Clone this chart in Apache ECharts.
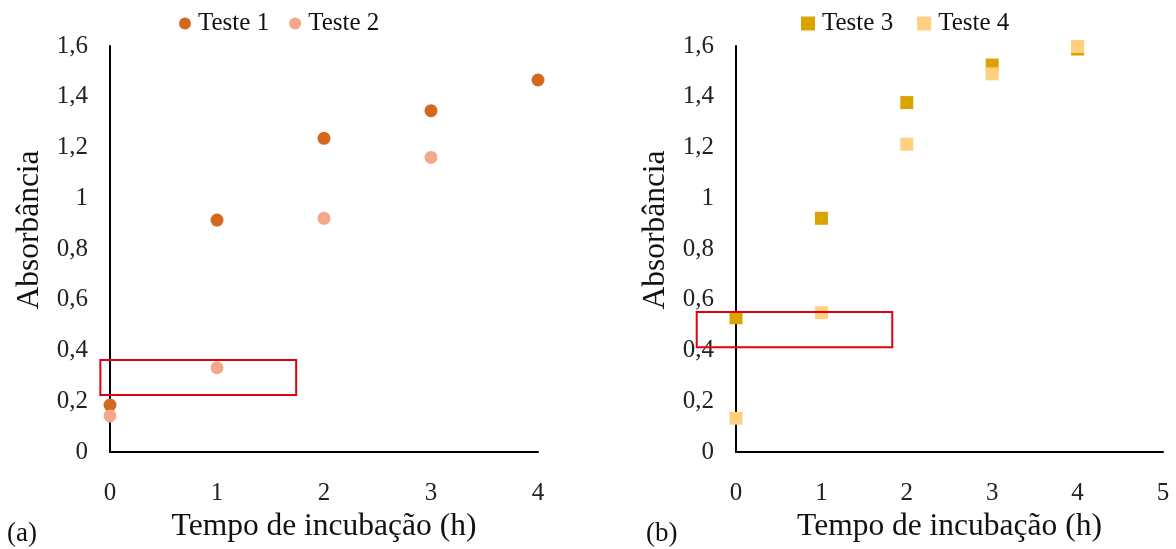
<!DOCTYPE html>
<html>
<head>
<meta charset="utf-8">
<script src="https://cdn.jsdelivr.net/npm/echarts@6/dist/echarts.min.js"></script>
<style>
  html, body { margin: 0; padding: 0; background: #fff; }
  #chart { width: 1176px; height: 549px; }
</style>
</head>
<body>
<div id="chart"></div>
<script>
// Incubation time (h)
const tempoA = [0, 1, 2, 3, 4];
const tempoB = [0, 1, 2, 3, 4];
// Absorbance readings
const teste1 = [0.185, 0.914, 1.236, 1.345, 1.466];
const teste2 = [0.142, 0.332, 0.921, 1.161];
const teste3 = [0.529, 0.921, 1.377, 1.525, 1.588];
const teste4 = [0.133, 0.549, 1.213, 1.490, 1.598];
// Highlighted regions [xMin, xMax, yMin, yMax]
const destaqueA = [-0.09, 1.74, 0.225, 0.363];
const destaqueB = [-0.46, 1.83, 0.413, 0.552];

const FONT = 'Liberation Serif';
const pairs = (xs, ys) => ys.map((y, i) => [xs[i], y]);

const yTick = v => v === 0 || v === 1 ? String(v) : v.toFixed(1).replace('.', ',');

function xAxis(gridIndex, max) {
  return {
    type: 'value', gridIndex, min: 0, max, interval: 1,
    name: 'Tempo de incubação (h)', nameLocation: 'middle', nameGap: 55,
    nameTextStyle: { fontFamily: FONT, fontSize: 31.5, color: '#111' },
    axisLine: { show: true, lineStyle: { color: '#000', width: 2 } },
    axisTick: { show: false }, splitLine: { show: false },
    axisLabel: { fontFamily: FONT, fontSize: 25, color: '#222', margin: 29 }
  };
}
function yAxis(gridIndex) {
  return {
    type: 'value', gridIndex, min: 0, max: 1.6, interval: 0.2,
    name: 'Absorbância', nameLocation: 'middle', nameGap: 64,
    // extra leading padding lifts the title a little above the axis centre
    nameTextStyle: { fontFamily: FONT, fontSize: 31.5, color: '#111', padding: [0, 0, 0, 38] },
    axisLine: { show: true, lineStyle: { color: '#000', width: 2 } },
    axisTick: { show: false }, splitLine: { show: false },
    axisLabel: { fontFamily: FONT, fontSize: 25, color: '#222', margin: 22, formatter: yTick }
  };
}

const chart = echarts.init(document.getElementById('chart'), null, { renderer: 'canvas' });
chart.setOption({
  backgroundColor: '#fff',
  animation: false,
  legend: [
    {
      data: ['Teste 1', 'Teste 2'], left: 174, top: 6, itemGap: 20,
      itemWidth: 12, itemHeight: 12,
      textStyle: { fontFamily: FONT, fontSize: 25, color: '#111', padding: [0, 0, 0, 2] }
    },
    {
      data: ['Teste 3', 'Teste 4'], left: 796, top: 6, itemGap: 24,
      itemWidth: 14, itemHeight: 14,
      textStyle: { fontFamily: FONT, fontSize: 25, color: '#111', padding: [0, 0, 0, 2] }
    }
  ],
  grid: [
    { left: 110, right: 638, top: 46, bottom: 97 },
    { left: 736, right: 13, top: 46, bottom: 97 }
  ],
  xAxis: [xAxis(0, 4), xAxis(1, 5)],
  yAxis: [yAxis(0), yAxis(1)],
  series: [
    { name: 'Teste 1', type: 'scatter', xAxisIndex: 0, yAxisIndex: 0, symbol: 'circle', symbolSize: 13,
      itemStyle: { color: '#D2691F', opacity: 1 }, data: pairs(tempoA, teste1), z: 3 },
    { name: 'Teste 2', type: 'scatter', xAxisIndex: 0, yAxisIndex: 0, symbol: 'circle', symbolSize: 13,
      itemStyle: { color: '#F2A889', opacity: 1 }, data: pairs(tempoA, teste2), z: 4 },
    { name: 'Teste 3', type: 'scatter', xAxisIndex: 1, yAxisIndex: 1, symbol: 'rect', symbolSize: 13,
      itemStyle: { color: '#DBA300', opacity: 1 }, data: pairs(tempoB, teste3), z: 3 },
    { name: 'Teste 4', type: 'scatter', xAxisIndex: 1, yAxisIndex: 1, symbol: 'rect', symbolSize: 13,
      itemStyle: { color: '#FFD07F', opacity: 1 }, data: pairs(tempoB, teste4), z: 4 }
  ]
});

// Red highlight boxes placed through each grid's own scales
function box(gridIndex, r) {
  const p1 = chart.convertToPixel({ gridIndex }, [r[0], r[3]]);
  const p2 = chart.convertToPixel({ gridIndex }, [r[1], r[2]]);
  return {
    type: 'rect', z: 10, silent: true,
    shape: { x: p1[0], y: p1[1], width: p2[0] - p1[0], height: p2[1] - p1[1] },
    style: { fill: 'none', stroke: '#E3000F', lineWidth: 2 }
  };
}
chart.setOption({
  graphic: [
    box(0, destaqueA),
    box(1, destaqueB),
    { type: 'text', left: 7, top: 520, style: { text: '(a)', font: '27px "Liberation Serif"', fill: '#111' } },
    { type: 'text', left: 646, top: 520, style: { text: '(b)', font: '27px "Liberation Serif"', fill: '#111' } }
  ]
});
</script>
</body>
</html>
